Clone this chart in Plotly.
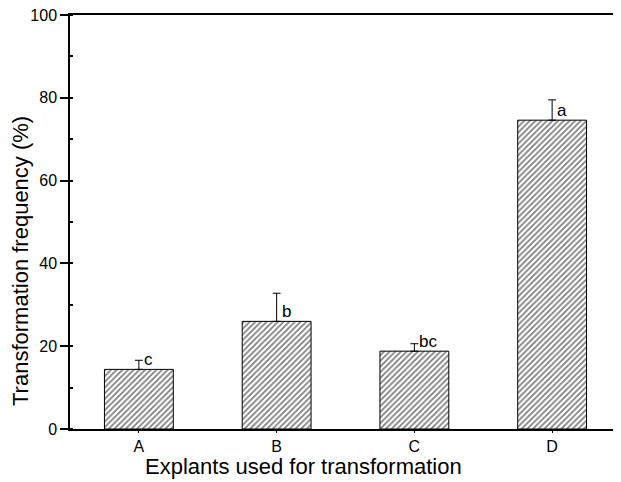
import plotly.graph_objects as go

categories = ["A", "B", "C", "D"]
values = [14.4, 26.0, 18.8, 74.6]
errors = [2.2, 6.8, 1.8, 4.9]
letters = ["c", "b", "bc", "a"]
y_ticks = [0, 20, 40, 60, 80, 100]

FONT = "Liberation Sans, Arial, Helvetica, sans-serif"

fig = go.Figure()
fig.add_trace(go.Bar(
    x=categories, y=values, width=0.5,
    marker=dict(color="white", line=dict(color="black", width=1),
                pattern=dict(shape="/", fgcolor="black", bgcolor="white", size=4, solidity=0.45)),
    error_y=dict(type="data", symmetric=False, array=errors, arrayminus=[0]*len(errors),
                 color="black", thickness=1, width=4),
    showlegend=False,
))

for c, v, l in zip(categories, values, letters):
    fig.add_annotation(x=c, y=v, text=l, showarrow=False, xanchor="left", yanchor="bottom",
                       xshift=3, yshift=-2, font=dict(size=17, color="black", family=FONT))

fig.add_annotation(text="Explants used for transformation", xref="paper", yref="paper",
                   x=(303 - 70) / 551, y=-37 / 414, xanchor="center", yanchor="middle",
                   showarrow=False, font=dict(size=22, color="black", family=FONT))
fig.add_annotation(text="Transformation frequency (%)", xref="paper", yref="paper",
                   x=(20 - 70) / 551, y=(429 - 261) / 414, xanchor="center", yanchor="middle",
                   textangle=-90, showarrow=False, font=dict(size=22, color="black", family=FONT))

fig.update_layout(
    width=613, height=474,
    margin=dict(l=62, r=0, t=7, b=53),
    paper_bgcolor="white", plot_bgcolor="white",
    font=dict(family=FONT, size=16, color="black"),
    xaxis=dict(type="category", range=[-0.5, 3.5], showline=True, linecolor="black", linewidth=1.5,
               mirror=True, ticks="outside", ticklen=2, tickcolor="black", showgrid=False,
               tickfont=dict(size=16)),
    yaxis=dict(range=[0, 100], tickvals=y_ticks, showline=True, linecolor="black", linewidth=1.5,
               ticks="outside", ticklen=8, tickcolor="black", tickwidth=1.5, showgrid=False, zeroline=False,
               ticklabeloverflow="allow",
               minor=dict(ticks="inside", dtick=10, ticklen=3, tickcolor="black"),
               tickfont=dict(size=16)),
)

fig.write_html("out.html")
